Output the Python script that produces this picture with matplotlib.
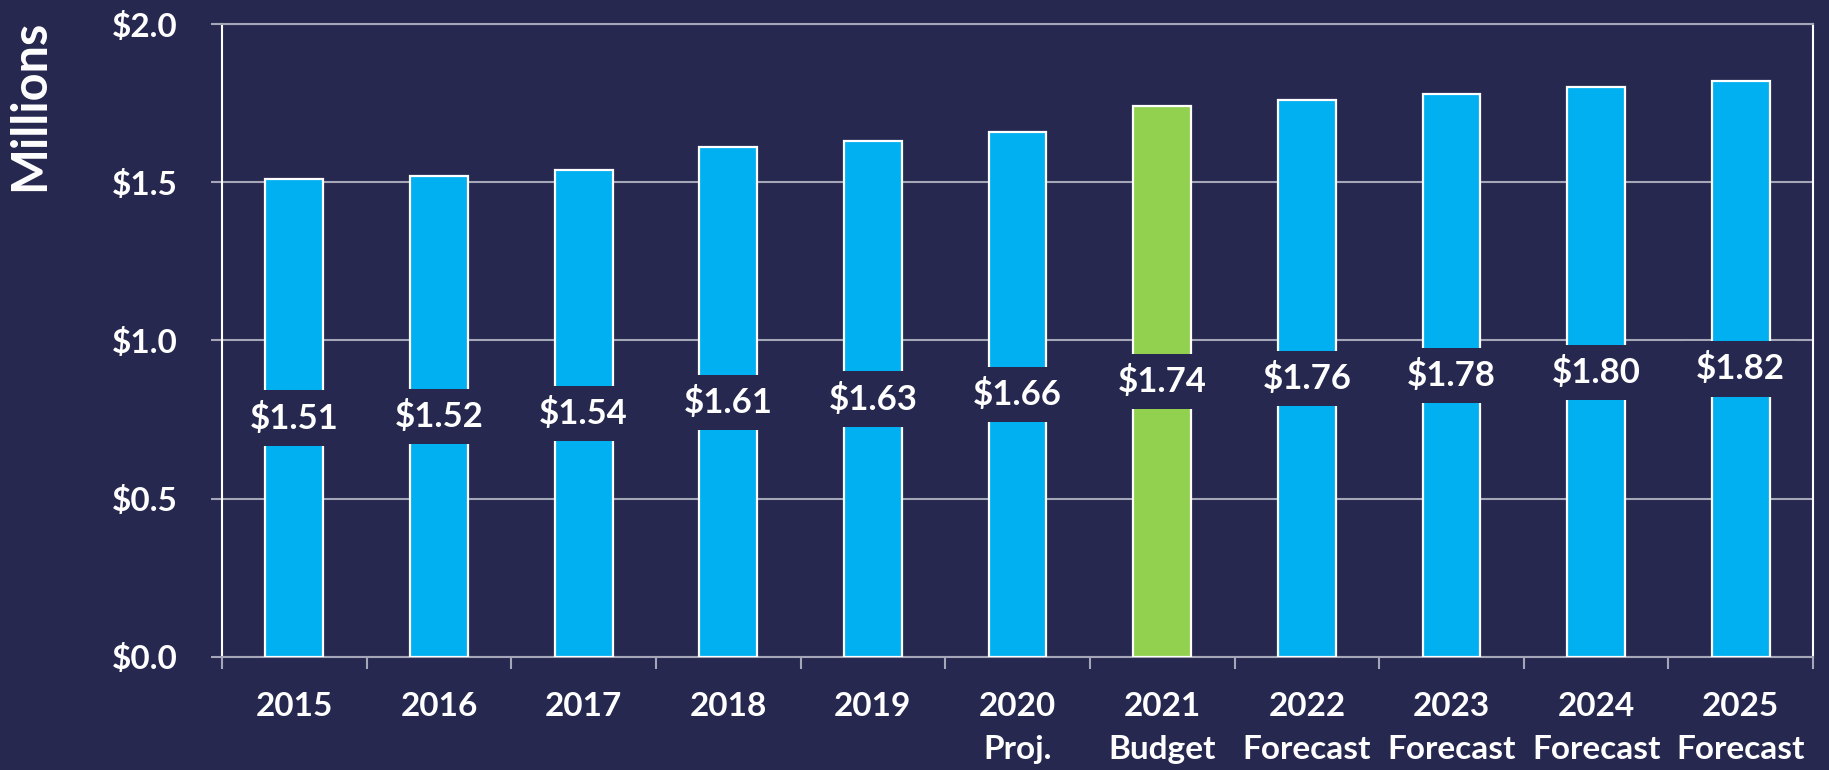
import matplotlib
matplotlib.use("Agg")
import matplotlib.pyplot as plt
import numpy as np

YEARS = ["2015", "2016", "2017", "2018", "2019", "2020", "2021",
         "2022", "2023", "2024", "2025"]
SUBLABELS = ["", "", "", "", "", "Proj.", "Budget",
             "Forecast", "Forecast", "Forecast", "Forecast"]
VALUES = [1.51, 1.52, 1.54, 1.61, 1.63, 1.66, 1.74, 1.76, 1.78, 1.80, 1.82]
HIGHLIGHT = "2021"

BG = "#26284F"
BLUE = "#00B0F0"
GREEN = "#92D050"
GRID = "#A5A6B8"

plt.rcParams["font.family"] = ["Lato", "DejaVu Sans"]
plt.rcParams["font.weight"] = "bold"

fig = plt.figure(figsize=(18.29, 7.70), dpi=100, facecolor=BG)
ax = fig.add_axes([0.1214, 0.1468, 0.8699, 0.8220], facecolor=BG)

x = np.arange(len(YEARS))
colors = [GREEN if y == HIGHLIGHT else BLUE for y in YEARS]
ax.bar(x, VALUES, 0.4, color=colors, edgecolor="white",
       linewidth=1.6, zorder=3)

# value labels sit in the middle of each bar on a background-coloured box
for xi, v in zip(x, VALUES):
    ax.text(xi, v / 2, f"${v:.2f}", ha="center", va="center",
            fontsize=25, fontweight="bold", color="white", zorder=4,
            bbox=dict(boxstyle="square,pad=0.32", facecolor=BG,
                      edgecolor="none"))

ax.set_xlim(-0.5, len(YEARS) - 0.5)
ax.set_ylim(0, 2.0)
ax.set_yticks([0, 0.5, 1.0, 1.5, 2.0])
ax.set_yticklabels(["$0.0", "$0.5", "$1.0", "$1.5", "$2.0"])
ax.set_xticks(x)
ax.set_xticklabels([f"{y}\n{s}" if s else y for y, s in zip(YEARS, SUBLABELS)],
                   linespacing=1.6)
ax.set_xticks(np.arange(len(YEARS) + 1) - 0.5, minor=True)

ax.tick_params(axis="y", colors=GRID, labelcolor="white", labelsize=24,
               length=8, width=1.5, pad=24)
ax.tick_params(axis="x", which="major", length=0, labelcolor="white",
               labelsize=24, pad=25)
ax.tick_params(axis="x", which="minor", colors=GRID, length=8.5, width=1.5)
for lab in ax.get_xticklabels() + ax.get_yticklabels():
    lab.set_fontweight("bold")

ax.grid(axis="y", color=GRID, linewidth=1.5, zorder=0)
ax.spines["left"].set_color("white")
ax.spines["right"].set_color("white")
ax.spines["top"].set_color(GRID)
ax.spines["bottom"].set_color(GRID)
for s in ax.spines.values():
    s.set_linewidth(1.5)

fig.text(0.0164, 0.974, "Millions", rotation=90, ha="center", va="top",
         fontsize=35, fontweight="bold", color="white")

fig.savefig("out.png", dpi=100, facecolor=BG)
